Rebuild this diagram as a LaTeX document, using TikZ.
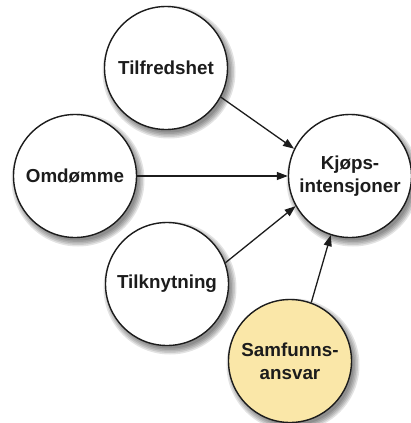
\documentclass[tikz,border=0pt]{standalone}
\usepackage{fontspec}
\setmainfont{Liberation Sans}
\usetikzlibrary{arrows.meta}
\definecolor{ink}{RGB}{28,28,28}
\definecolor{sand}{RGB}{250,231,168}
\tikzset{
  bubble/.style={circle, draw=ink, line width=1.4pt, fill=white, minimum size=123pt, inner sep=0pt,
    align=center, font=\fontsize{18.8}{23}\selectfont\bfseries, text=ink},
  link/.style={draw=ink, line width=1.3pt, -{Triangle[length=11pt,width=8pt]}}
}
\newcommand{\blobshadow}[3]{%
  \foreach \d in {5,3.5,2,0.5,-1}{
    \fill[black, opacity=0.11] (#1+3,#2+4) circle[radius=#3+\d];
  }}
\begin{document}
\begin{tikzpicture}[x=1pt,y=-1pt]
\useasboundingbox (0,0) rectangle (411,423);
\blobshadow{166}{68}{61.5}
\blobshadow{75}{176}{61.5}
\blobshadow{167}{284}{61.5}
\blobshadow{350}{176}{61.5}
\blobshadow{290}{361}{61.5}
\node[bubble] (tilf) at (166,68) {Tilfredshet};
\node[bubble] (omd) at (75,176) {Omdømme};
\node[bubble] (tilk) at (167,284) {Tilknytning};
\node[bubble] (kjop) at (350,176) {Kjøps-\\intensjoner};
\node[bubble, fill=sand] (samf) at (290,361) {Samfunns-\\ansvar};
\draw[link] (tilf.-28) -- (kjop.154);
\draw[link] (omd.0) -- (kjop.180);
\draw[link] (tilk.20) -- (kjop.209);
\draw[link] (samf.70) -- (kjop.252);
\end{tikzpicture}
\end{document}
